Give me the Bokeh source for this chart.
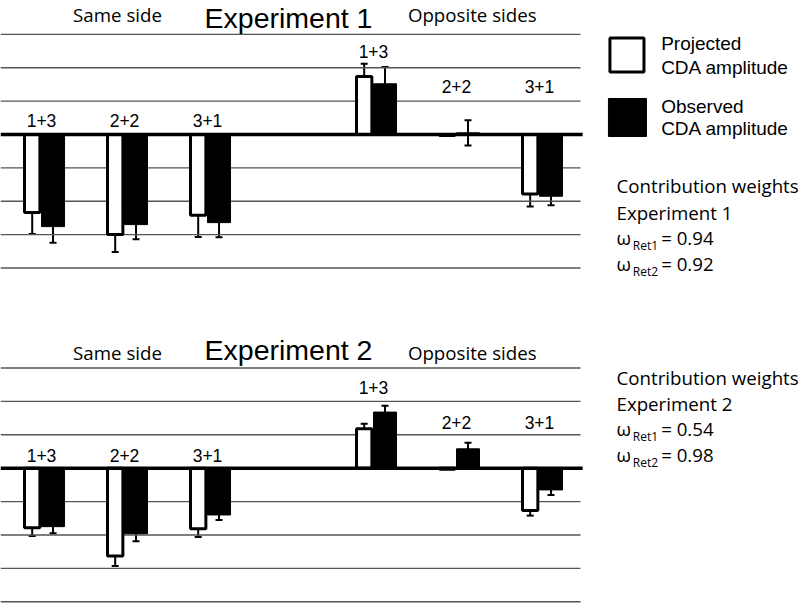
from bokeh.plotting import figure
from bokeh.layouts import column
from bokeh.models import ColumnDataSource, Whisker, TeeHead, Range1d
from bokeh.core.properties import value
from bokeh.embed import file_html
from bokeh.resources import INLINE

# ---------------- data ----------------
groups = ["1+3", "2+2", "3+1", "1+3", "2+2", "3+1"]
group_pos = [0, 1, 2, 4, 5, 6]
grid_levels = [3, 2, 1, -1, -2, -3, -4]

exp1_projected = [-2.34, -3.00, -2.42, 1.74, -0.03, -1.78]
exp1_projected_err = [0.64, 0.52, 0.65, 0.38, 0.0, 0.38]
exp1_observed = [-2.76, -2.70, -2.64, 1.52, 0.05, -1.85]
exp1_observed_err = [0.48, 0.44, 0.44, 0.50, 0.38, 0.27]

exp2_projected = [-1.78, -2.63, -1.81, 1.18, -0.03, -1.27]
exp2_projected_err = [0.25, 0.30, 0.25, 0.15, 0.0, 0.15]
exp2_observed = [-1.75, -1.96, -1.40, 1.68, 0.58, -0.65]
exp2_observed_err = [0.20, 0.23, 0.15, 0.19, 0.18, 0.15]

weights1 = ["0.94", "0.92"]
weights2 = ["0.54", "0.98"]

SANS = value("Liberation Sans")
CAL = value("Open Sans")

X0, X1 = -0.494, 9.145
PROJ_OFF, PROJ_W = -0.112, 0.185
OBS_OFF, OBS_W = 0.139, 0.277


def make_panel(height, yr, title, proj, proj_err, obs, obs_err,
               same_y, opp13_y, opp_y, head_y, side_y):
    p = figure(width=800, height=height, output_backend="svg",
               toolbar_location=None, x_axis_location=None,
               y_axis_location=None, x_range=Range1d(X0, X1),
               y_range=Range1d(*yr), min_border=0, outline_line_color=None)
    p.grid.visible = False
    p.background_fill_color = "white"
    p.border_fill_color = "white"

    # horizontal lines
    p.segment(x0=[X0] * len(grid_levels), x1=[6.494] * len(grid_levels),
              y0=grid_levels, y1=grid_levels, line_color="#555555",
              line_width=1.4)

    xp = [x + PROJ_OFF for x in group_pos]
    xo = [x + OBS_OFF for x in group_pos]
    p.vbar(x=xp, width=PROJ_W, top=proj, bottom=0, fill_color="white",
           line_color="black", line_width=3)
    p.vbar(x=xo, width=OBS_W, top=obs, bottom=0, fill_color="black",
           line_color="black", line_width=1)

    # zero line
    p.segment(x0=[X0], x1=[6.52], y0=[0], y1=[0], line_color="black",
              line_width=3.5)

    # error bars
    ex, up, lo = [], [], []
    for x, v, e in zip(xp, proj, proj_err):
        if e > 0:
            ex.append(x); up.append(v + e); lo.append(v - e)
    for x, v, e in zip(xo, obs, obs_err):
        if e > 0:
            ex.append(x); up.append(v + e); lo.append(v - e)
    src = ColumnDataSource(dict(x=ex, upper=up, lower=lo))
    w = Whisker(source=src, base="x", upper="upper", lower="lower",
                dimension="height", line_width=2, line_color="black",
                upper_head=TeeHead(size=7, line_width=2, line_color="black"),
                lower_head=TeeHead(size=7, line_width=2, line_color="black"))
    p.add_layout(w)

    # group labels
    ly = [same_y, same_y, same_y, opp13_y, opp_y, opp_y]
    p.text(x=group_pos, y=ly, text=groups, text_font=SANS,
           text_font_size="17.5px", text_align="center",
           text_baseline="middle", text_color="black")

    # header texts
    p.text(x=[2.976], y=[head_y], text=[title], text_font=SANS,
           text_font_size="28.5px", text_align="center",
           text_baseline="middle", text_color="black")
    p.text(x=[0.916, 5.19], y=[side_y, side_y],
           text=["Same side", "Opposite sides"], text_font=CAL,
           text_font_size="18.7px", text_align="center",
           text_baseline="middle", text_color="black")
    return p


def weights_block(p, exp_name, weights, ys):
    p.text(x=[6.928, 6.928], y=ys[:2],
           text=["Contribution weights", exp_name], text_font=CAL,
           text_font_size="18.7px", text_align="left",
           text_baseline="middle", text_color="black")
    p.text(x=[6.928, 6.928], y=ys[2:], text=["\u03c9", "\u03c9"],
           text_font=CAL, text_font_size="18.7px", text_align="left",
           text_baseline="middle", text_color="black")
    p.text(x=[7.125, 7.125], y=[ys[2] - 0.23, ys[3] - 0.23],
           text=["Ret1", "Ret2"], text_font=CAL, text_font_size="12px",
           text_align="left", text_baseline="middle", text_color="black")
    p.text(x=[7.466, 7.466], y=ys[2:],
           text=["= " + weights[0], "= " + weights[1]], text_font=CAL,
           text_font_size="18.7px", text_align="left",
           text_baseline="middle", text_color="black")


p1 = make_panel(334, (-5.993, 4.016), "Experiment 1", exp1_projected,
                exp1_projected_err, exp1_observed, exp1_observed_err,
                0.42, 2.49, 1.44, 3.5, 3.6)
p2 = make_panel(269, (-4.051, 4.003), "Experiment 2", exp2_projected,
                exp2_projected_err, exp2_observed, exp2_observed_err,
                0.38, 2.43, 1.38, 3.55, 3.47)

# legend (panel 1)
p1.rect(x=[7.054], y=[2.38], width=0.41, height=1.02, fill_color="white",
        line_color="black", line_width=3)
p1.rect(x=[7.06], y=[0.51], width=0.458, height=1.14, fill_color="black",
        line_color="black", line_width=1)
p1.text(x=[7.466] * 4, y=[2.72, 2.02, 0.84, 0.18],
        text=["Projected", "CDA amplitude", "Observed", "CDA amplitude"],
        text_font=SANS, text_font_size="19px", text_align="left",
        text_baseline="middle", text_color="black")

weights_block(p1, "Experiment 1", weights1, [-1.53, -2.33, -3.09, -3.87])
weights_block(p2, "Experiment 2", weights2, [2.72, 1.93, 1.19, 0.41])

layout = column(p1, p2, spacing=0)
open("out.html", "w").write(file_html(layout, INLINE))
